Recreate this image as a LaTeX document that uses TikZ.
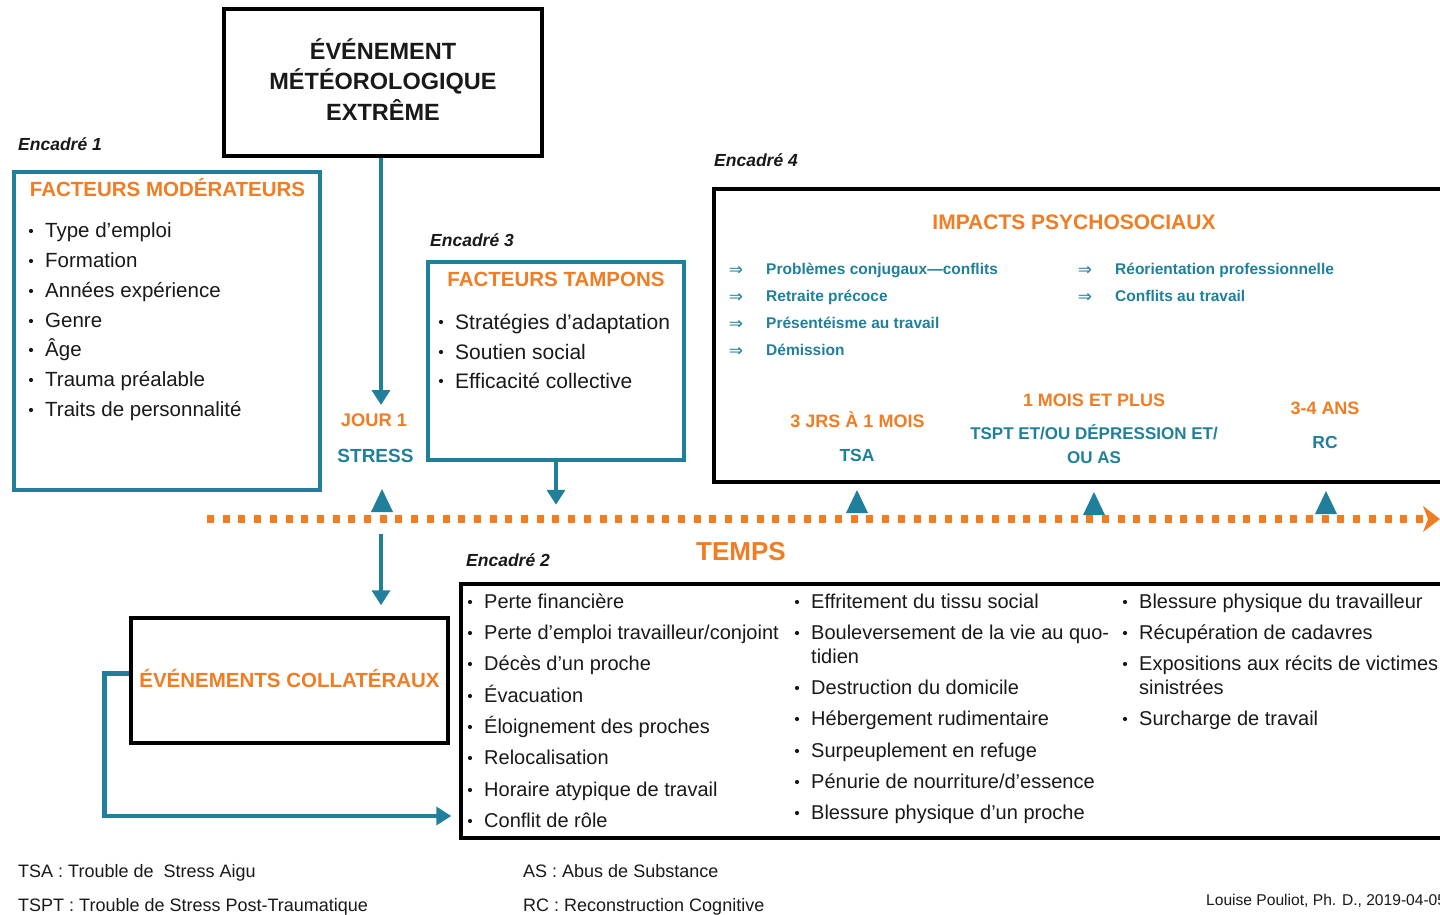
\documentclass[tikz,border=0pt]{standalone}
\usepackage{fontspec}
\setmainfont{Liberation Sans}
\newfontfamily\dejavu{DejaVu Sans}
\usetikzlibrary{arrows.meta,calc}
\definecolor{tealc}{RGB}{32,128,155}
\definecolor{orangec}{RGB}{240,125,35}
\definecolor{inkc}{RGB}{25,25,25}
% name, x, y (visual centre), font size, text
\newcommand\bul[5]{%
  \fill[inkc] (#2-14,#3+1) circle (2.1pt);
  \node[itm, font=\fontsize{#4}{24}\selectfont] (#1) at (#2,#3+0.29*#4+2) {#5};}
\begin{document}
\begin{tikzpicture}[x=1pt,y=-1pt,
 lbl/.style={anchor=base west, inner sep=0pt, text=inkc, font=\fontsize{17.5}{21}\selectfont\bfseries\itshape},
 itm/.style={anchor=base west, inner sep=0pt, text=inkc},
 ttl/.style={anchor=base, inner sep=0pt, text=orangec, font=\fontsize{20.5}{24}\selectfont\bfseries},
 tbox/.style={draw=tealc, line width=3.5pt, inner sep=0pt},
 kbox/.style={draw=black, line width=3.5pt, inner sep=0pt},
 tarrow/.style={draw=tealc, line width=4.5pt, -{Triangle[width=18pt,length=15pt]}},
 imp/.style={anchor=base west, inner sep=0pt, text=tealc, font=\fontsize{15.5}{18}\selectfont\bfseries},
 impar/.style={anchor=base, inner sep=0pt, text=tealc, font=\dejavu\fontsize{17}{18}\selectfont},
 ora/.style={anchor=base, inner sep=0pt, text=orangec, font=\fontsize{18}{22}\selectfont\bfseries},
 tea/.style={anchor=base, inner sep=0pt, text=tealc, font=\fontsize{17.5}{24}\selectfont\bfseries},
 leg/.style={anchor=base west, inner sep=0pt, text=inkc, font=\fontsize{18}{22}\selectfont},
]
\useasboundingbox (0,0) rectangle (1440,915);
\fill[white] (0,0) rectangle (1440,915);

% top event
\node[kbox, line width=4pt, minimum width=318pt, minimum height=147pt] (top) at (383,82.5) {};
\node[inner sep=0pt, align=center, text=inkc, font=\fontsize{23.5}{30.5}\selectfont\bfseries] (toptxt) at ([yshift=3pt]top.center) {ÉVÉNEMENT\\MÉTÉOROLOGIQUE\\EXTRÊME};

% Encadre 1
\node[lbl] (l1) at (18,150.3) {Encadré 1};
\node[tbox, minimum width=306pt, minimum height=318pt] (enc1) at (167,331) {};
\node[ttl] (t1) at (167.5,196.4) {FACTEURS MODÉRATEURS};
\bul{e1a}{45}{230}{20.5}{Type d’emploi}
\bul{e1b}{45}{260}{20.5}{Formation}
\bul{e1c}{45}{290}{20.5}{Années expérience}
\bul{e1d}{45}{320}{20.5}{Genre}
\bul{e1e}{45}{349}{20.5}{Âge}
\bul{e1f}{45}{379}{20.5}{Trauma préalable}
\bul{e1g}{45}{409}{20.5}{Traits de personnalité}

% Encadre 3
\node[lbl] (l3) at (430,246.3) {Encadré 3};
\node[tbox, minimum width=256pt, minimum height=198pt] (enc3) at (556,361) {};
\node[ttl] (t3) at (556,286.4) {FACTEURS TAMPONS};
\bul{e3a}{455}{321}{21}{Stratégies d’adaptation}
\bul{e3b}{455}{351}{21}{Soutien social}
\bul{e3c}{455}{380}{21}{Efficacité collective}

% Jour 1 / stress
\node[ora, font=\fontsize{18.3}{22}\selectfont\bfseries] (jour) at (374,426.6) {JOUR 1};
\node[tea, font=\fontsize{19}{22}\selectfont\bfseries] (stress) at (375.5,462.8) {STRESS};

% Encadre 4
\node[lbl] (l4) at (714,166.3) {Encadré 4};
\node[kbox, minimum width=746pt, minimum height=293pt] (enc4) at (1087,335.5) {};
\node[anchor=base, inner sep=0pt, text=orangec, font=\fontsize{21}{24}\selectfont\bfseries] (t4) at (1074,229.6) {IMPACTS PSYCHOSOCIAUX};
\node[impar] (r1) at (736,275) {⇒};
\node[imp] (i1) at (766,274.5) {Problèmes conjugaux—conflits};
\node[impar] (r2) at (736,302) {⇒};
\node[imp] (i2) at (766,301.5) {Retraite précoce};
\node[impar] (r3) at (736,329) {⇒};
\node[imp] (i3) at (766,328.5) {Présentéisme au travail};
\node[impar] (r4) at (736,356) {⇒};
\node[imp] (i4) at (766,355.5) {Démission};
\node[impar] (r5) at (1085,275) {⇒};
\node[imp] (i5) at (1115,274.5) {Réorientation professionnelle};
\node[impar] (r6) at (1085,302) {⇒};
\node[imp] (i6) at (1115,301.5) {Conflits au travail};

\node[ora] (p1) at (857.5,427.4) {3 JRS À 1 MOIS};
\node[tea] (d1) at (857,461.4) {TSA};
\node[ora] (p2) at (1094,406.3) {1 MOIS ET PLUS};
\node[anchor=center, inner sep=0pt, align=center, text=tealc, font=\fontsize{17}{24}\selectfont\bfseries] (d2) at (1094,444.3) {TSPT ET/OU DÉPRESSION ET/\\OU AS};
\node[ora] (p3) at (1325,414.4) {3-4 ANS};
\node[tea] (d3) at (1325,448.4) {RC};

% timeline
\draw[orangec, line width=8pt, dash pattern=on 7pt off 8.7pt] (207,519) -- (1424,519);
\fill[orangec] (1423,506) -- (1440,519) -- (1423,532) -- (1428,519) -- cycle;
\node[anchor=base, inner sep=0pt, text=orangec, font=\fontsize{26}{30}\selectfont\bfseries] (temps) at (741,560.4) {TEMPS};

% triangles
\fill[tealc] (371,512) -- (393,512) -- (382,489) -- cycle;
\fill[tealc] (846,513) -- (868,513) -- (857,490) -- cycle;
\fill[tealc] (1083,515) -- (1105,515) -- (1094,492) -- cycle;
\fill[tealc] (1315,514) -- (1337,514) -- (1326,491) -- cycle;

% Encadre 2
\node[lbl] (l2) at (466,566.3) {Encadré 2};
\node[kbox, minimum width=1000pt, minimum height=254pt] (enc2) at (961,711) {};
\bul{a1}{484}{601}{20}{Perte financière}
\bul{a2}{484}{632}{20}{Perte d’emploi travailleur/conjoint}
\bul{a3}{484}{663}{20}{Décès d’un proche}
\bul{a4}{484}{695}{20}{Évacuation}
\bul{a5}{484}{726}{20}{Éloignement des proches}
\bul{a6}{484}{757}{20}{Relocalisation}
\bul{a7}{484}{789}{20}{Horaire atypique de travail}
\bul{a8}{484}{820}{20}{Conflit de rôle}
\bul{b1}{811}{601}{20}{Effritement du tissu social}
\fill[inkc] (797,633) circle (2.1pt);
\node[anchor=north west, inner sep=0pt, align=left, text=inkc, font=\fontsize{20}{24}\selectfont] (b2) at (811,624.5) {Bouleversement de la vie au quo-\\tidien};
\bul{b3}{811}{687}{20}{Destruction du domicile}
\bul{b4}{811}{718}{20}{Hébergement rudimentaire}
\bul{b5}{811}{750}{20}{Surpeuplement en refuge}
\bul{b6}{811}{781}{20}{Pénurie de nourriture/d’essence}
\bul{b7}{811}{812}{20}{Blessure physique d’un proche}
\bul{c1}{1139}{601}{20}{Blessure physique du travailleur}
\bul{c2}{1139}{632}{20}{Récupération de cadavres}
\fill[inkc] (1125,664) circle (2.1pt);
\node[anchor=north west, inner sep=0pt, align=left, text=inkc, font=\fontsize{20}{24}\selectfont] (c3) at (1139,655.5) {Expositions aux récits de victimes\\sinistrées};
\bul{c4}{1139}{718}{20}{Surcharge de travail}

% collateral events
\node[kbox, minimum width=317pt, minimum height=125pt, text=orangec, font=\fontsize{20.5}{24}\selectfont\bfseries, text height=14.7pt, text depth=0pt] (coll) at (289.5,680.5) {ÉVÉNEMENTS COLLATÉRAUX};

% connectors
\coordinate (a1end) at (381,405);
\draw[tarrow] (top.south -| a1end) -- (a1end);
\coordinate (a2s) at (381,534);
\draw[tarrow, shorten >=11pt] (a2s) -- (coll.north -| a2s);
\draw[tarrow] (enc3.south) -- ++(0,43);
\coordinate (c816) at (461,816);
\draw[tarrow, shorten >=8pt] ([yshift=7pt]coll.west) -- ++(-25,0) |- (enc2.west |- c816);

% legend
\node[leg] (g1) at (18,877) {TSA : Trouble de \ Stress Aigu};
\node[leg] (g2) at (18,911) {TSPT : Trouble de Stress Post-Traumatique};
\node[leg] (g3) at (523,877) {AS : Abus de Substance};
\node[leg] (g4) at (523,911) {RC : Reconstruction Cognitive};
\node[anchor=base west, inner sep=0pt, text=inkc, font=\fontsize{15.6}{18}\selectfont] (cr) at (1206,905.5) {Louise Pouliot, Ph. D., 2019-04-05};
\end{tikzpicture}
\end{document}
